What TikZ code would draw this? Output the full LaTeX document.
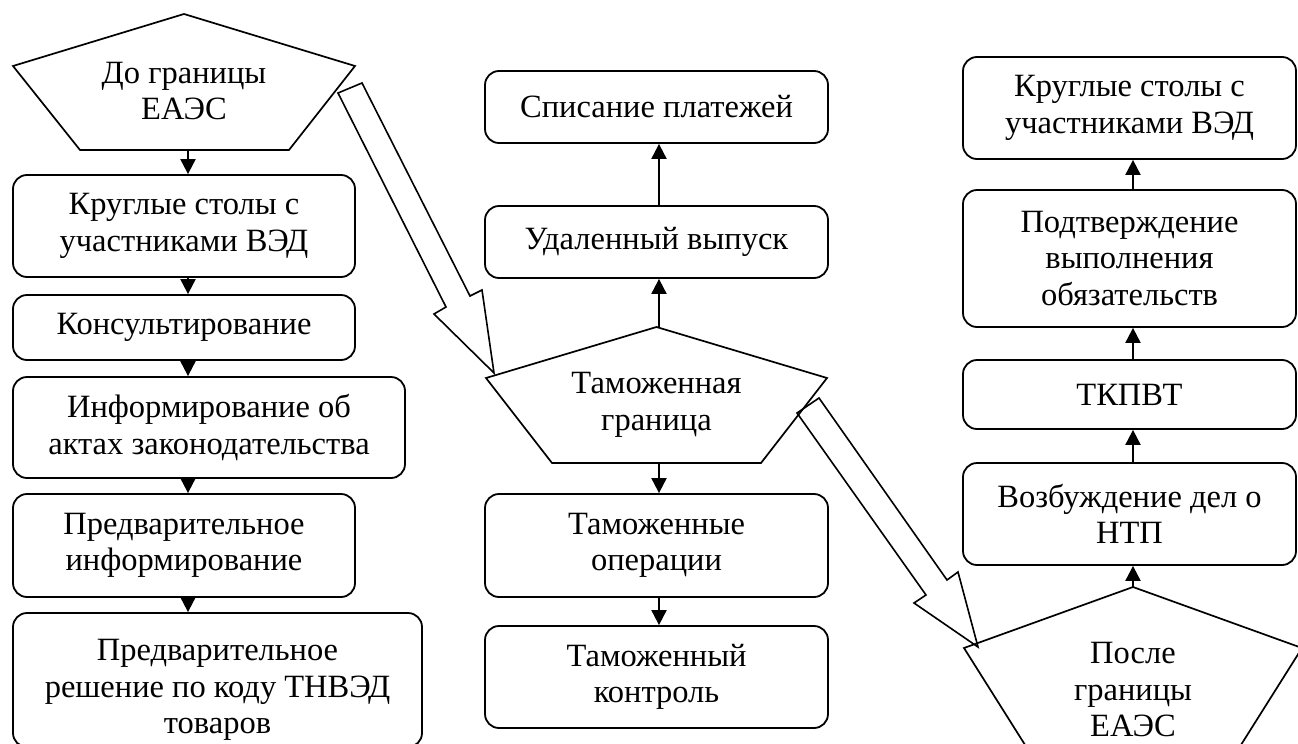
\documentclass[tikz,border=0pt]{standalone}
\usepackage{fontspec}
\setmainfont{Liberation Serif}
\usetikzlibrary{arrows.meta}
\newcommand{\myfs}{\fontsize{32.5}{36.5}\selectfont}
\begin{document}
\begin{tikzpicture}[x=1pt,y=-1pt,
  box/.style={draw, rounded corners=14pt, line width=1.8pt, inner sep=0pt, align=center, font=\myfs},
  txt/.style={align=center, inner sep=0pt, font=\myfs},
  shp/.style={draw, line width=1.7pt, line join=miter},
  arr/.style={line width=2pt, -{Triangle[width=15pt,length=15pt]}},
  big/.style={draw, line width=1.6pt, line join=miter}]
\clip (0,0) rectangle (1298,744);
\fill[white] (0,0) rectangle (1298,744);
% column x coordinates for connectors
\coordinate (lx) at (188,0);
\coordinate (cx) at (659,0);
\coordinate (rx) at (1133,0);

% ---- left pentagon
\draw[shp] (184,14) -- (13,66) -- (80,150) -- (289,150) -- (355,66) -- cycle;
\node[txt] (p1) at (184,91) {До границы\\ЕАЭС};
\coordinate (p1s) at (188,150);

% ---- left column
\node[box, minimum width=342pt, minimum height=102pt] (b1) at (184,226) {Круглые столы с\\участниками ВЭД};
\node[box, minimum width=342pt, minimum height=65pt] (b2) at (184,327.5) {Консультирование};
\node[box, minimum width=392pt, minimum height=101pt] (b3) at (209,427.5) {Информирование об\\актах законодательства};
\node[box, minimum width=342pt, minimum height=103pt] (b4) at (184,545.5) {Предварительное\\информирование};
\node[box, minimum width=409pt, minimum height=134pt] (b5) at (217.5,680) {};
\node[txt] (t5) at (217.5,690) {Предварительное\\решение по коду ТНВЭД\\товаров};

\draw[arr] (p1s) -- (b1.north -| lx);
\draw[arr] (b1.south -| lx) -- (b2.north -| lx);
\draw[arr] (b2.south -| lx) -- (b3.north -| lx);
\draw[arr] (b3.south -| lx) -- (b4.north -| lx);
\draw[arr] (b4.south -| lx) -- (b5.north -| lx);

% ---- centre pentagon
\draw[shp] (656.5,327) -- (486,378) -- (552,463) -- (761,463) -- (827,378) -- cycle;
\node[txt] (p2) at (656.5,405) {Таможенная\\граница};
\coordinate (p2n) at (659,327);
\coordinate (p2s) at (659,463);

% ---- centre column
\node[box, minimum width=343pt, minimum height=72pt] (c1) at (656.5,107) {Списание платежей};
\node[box, minimum width=343pt, minimum height=72pt] (c2) at (656.5,242) {Удаленный выпуск};
\node[box, minimum width=343pt, minimum height=103pt] (c3) at (656.5,545.5) {Таможенные\\операции};
\node[box, minimum width=343pt, minimum height=102pt] (c4) at (656.5,677) {Таможенный\\контроль};

\draw[arr] (p2n) -- (c2.south -| cx);
\draw[arr] (c2.north -| cx) -- (c1.south -| cx);
\draw[arr] (p2s) -- (c3.north -| cx);
\draw[arr] (c3.south -| cx) -- (c4.north -| cx);

% ---- right pentagon
\draw[shp] (1133,587) -- (964,648) -- (1044,775) -- (1222,775) -- (1302,648) -- cycle;
\node[txt] (p3) at (1133,690) {После\\границы\\ЕАЭС};
\coordinate (p3n) at (1133,587);

% ---- right column
\node[box, minimum width=333pt, minimum height=102pt] (r1) at (1129.5,108) {Круглые столы с\\участниками ВЭД};
\node[box, minimum width=333pt, minimum height=137pt] (r2) at (1129.5,258.5) {Подтверждение\\выполнения\\обязательств};
\node[box, minimum width=333pt, minimum height=69pt] (r3) at (1129.5,394.5) {ТКПВТ};
\node[box, minimum width=333pt, minimum height=102pt] (r4) at (1129.5,514) {Возбуждение дел о\\НТП};

\draw[arr] (p3n) -- (r4.south -| rx);
\draw[arr] (r4.north -| rx) -- (r3.south -| rx);
\draw[arr] (r3.north -| rx) -- (r2.south -| rx);
\draw[arr] (r2.north -| rx) -- (r1.south -| rx);

% ---- block arrows
\draw[big] (338,93) -- (362,83) -- (470,296) -- (482,290) -- (494,373) -- (434,314) -- (446,307) -- cycle;
\draw[big] (797,413) -- (819,398) -- (947,580) -- (958,572) -- (978,647) -- (914,603) -- (926,595) -- cycle;
\end{tikzpicture}
\end{document}
